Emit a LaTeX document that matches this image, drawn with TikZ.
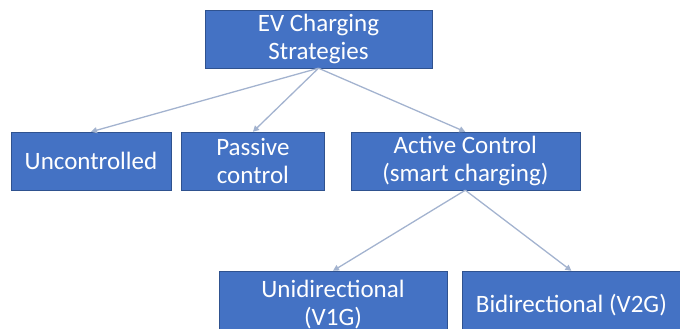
\documentclass[tikz,border=0pt]{standalone}
\usepackage{fontspec}
\setmainfont{Carlito}
\usetikzlibrary{arrows.meta,positioning}
\definecolor{boxblue}{HTML}{4472C4}
\definecolor{boxline}{HTML}{2F528F}
\definecolor{linkgray}{HTML}{A3B3CF}

\begin{document}
\begin{tikzpicture}[
  x=1pt, y=1pt, >={Triangle[length=6pt,width=6pt]},
  every node/.style={font=\fontsize{25}{28}\selectfont},
  box/.style={draw=boxline, fill=boxblue, text=white, align=center,
              inner sep=0pt, minimum height=58pt},
  link/.style={->, draw=linkgray, line width=1.3pt}
]
  \useasboundingbox (0,0) rectangle (680,-329);
  \clip (0,0) rectangle (680,-329);
  \node[box, minimum width=227pt] (root) at (318.5,-39) {EV Charging\\Strategies};

  \node[box, minimum width=160pt] (uncontrolled) at (91,-161) {Uncontrolled};
  \node[box, minimum width=143pt, right=10pt of uncontrolled] (passive) {Passive\\control};
  \node[box, minimum width=229pt, right=26pt of passive] (active) {Active Control\\(smart charging)};

  \node[box, minimum width=228pt, minimum height=68pt] (unidir) at (333,-305) {Unidirectional\\(V1G)};
  \node[box, minimum width=218pt, minimum height=68pt, right=15pt of unidir] (bidir) {Bidirectional (V2G)};

  \draw[link] (root.south) -- (uncontrolled.north);
  \draw[link] (root.south) -- (passive.north);
  \draw[link] (root.south) -- (active.north);
  \draw[link] (active.south) -- (unidir.north);
  \draw[link] (active.south) -- (bidir.north);
\end{tikzpicture}
\end{document}
